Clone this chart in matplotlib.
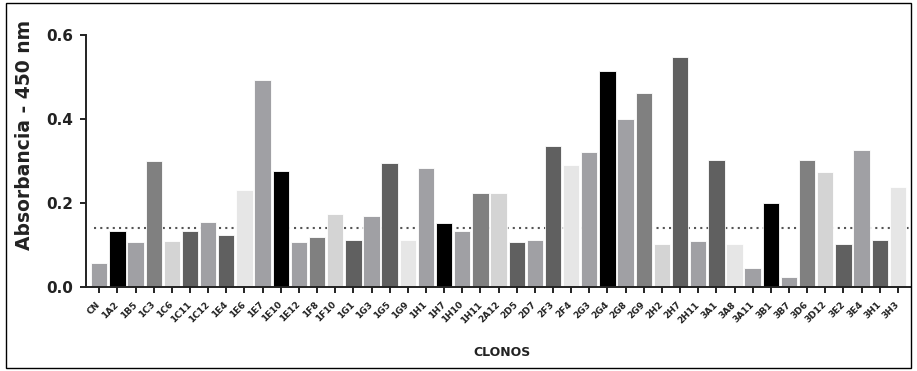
import matplotlib
matplotlib.use("Agg")
import matplotlib.pyplot as plt
from matplotlib.patches import Rectangle

plt.rcParams['font.family'] = ['DejaVu Sans']

# clone names, absorbance values and bar shades
clones = ['CN', '1A2', '1B5', '1C3', '1C6', '1C11', '1C12', '1E4', '1E6', '1E7',
          '1E10', '1E12', '1F8', '1F10', '1G1', '1G3', '1G5', '1G9', '1H1', '1H7',
          '1H10', '1H11', '2A12', '2D5', '2D7', '2F3', '2F4', '2G3', '2G4', '2G8',
          '2G9', '2H2', '2H7', '2H11', '3A1', '3A8', '3A11', '3B1', '3B7', '3D6',
          '3D12', '3E2', '3E4', '3H1', '3H3']
absorbance = [0.058, 0.133, 0.107, 0.300, 0.110, 0.133, 0.155, 0.125, 0.230, 0.492,
              0.276, 0.107, 0.120, 0.173, 0.113, 0.170, 0.296, 0.113, 0.284, 0.152,
              0.133, 0.223, 0.223, 0.107, 0.113, 0.336, 0.290, 0.321, 0.514, 0.401,
              0.461, 0.103, 0.548, 0.110, 0.303, 0.103, 0.045, 0.200, 0.023, 0.303,
              0.273, 0.103, 0.326, 0.113, 0.238]
shades = ['#a0a0a4', '#000000', '#a0a0a4', '#808080', '#d4d4d4', '#606060', '#a0a0a4',
          '#606060', '#e6e6e6', '#a0a0a4', '#000000', '#a0a0a4', '#808080', '#d4d4d4',
          '#606060', '#a0a0a4', '#606060', '#e6e6e6', '#a0a0a4', '#000000', '#a0a0a4',
          '#808080', '#d4d4d4', '#606060', '#a0a0a4', '#606060', '#e6e6e6', '#a0a0a4',
          '#000000', '#a0a0a4', '#808080', '#d4d4d4', '#606060', '#a0a0a4', '#606060',
          '#e6e6e6', '#a0a0a4', '#000000', '#a0a0a4', '#808080', '#d4d4d4', '#606060',
          '#a0a0a4', '#606060', '#e6e6e6']
cutoff = 0.14

fig = plt.figure(figsize=(9.17, 3.71), dpi=100)
ax = fig.add_axes([0.094, 0.226, 0.898, 0.68])

x = range(len(clones))
# cutoff line sits behind the bars
ax.axhline(cutoff, xmin=0.01, color='#555555', linestyle=(0, (1, 2)), linewidth=1.5, zorder=1)
ax.bar(x, absorbance, width=0.9, color=shades, edgecolor='white', linewidth=0.6, zorder=2)

ax.set_ylim(0, 0.6)
ax.set_xlim(-0.72, 44.65)
ax.set_yticks([0.0, 0.2, 0.4, 0.6])
ax.set_yticklabels(['0.0', '0.2', '0.4', '0.6'], fontsize=11, fontweight='bold', color='#222222')
ax.set_xticks(list(x))
ax.set_xticklabels(clones, rotation=45, ha='right', va='center', rotation_mode='anchor',
                   fontsize=6.5, fontweight='bold', color='#222222')
ax.tick_params(axis='both', direction='out', length=4.5, width=1.4, color='#222222')
ax.tick_params(axis='x', pad=7)
ax.tick_params(axis='y', pad=5)

for s in ['top', 'right']:
    ax.spines[s].set_visible(False)
for s in ['left', 'bottom']:
    ax.spines[s].set_linewidth(1.4)
    ax.spines[s].set_color('#222222')

fig.text(25 / 917, 1 - 135 / 371, 'Absorbancia - 450 nm', rotation=90,
         ha='center', va='center', fontsize=13.5, fontweight='bold', color='#222222')
fig.text(502 / 917, 1 - 352 / 371, 'CLONOS', ha='center', va='center',
         fontsize=9, fontweight='bold', color='#222222')

# thin box around the whole figure
fig.patches.append(Rectangle((0.006, 0.008), 0.988, 0.984, transform=fig.transFigure,
                             fill=False, edgecolor='black', linewidth=1.0))

fig.savefig('out.png', dpi=100)
